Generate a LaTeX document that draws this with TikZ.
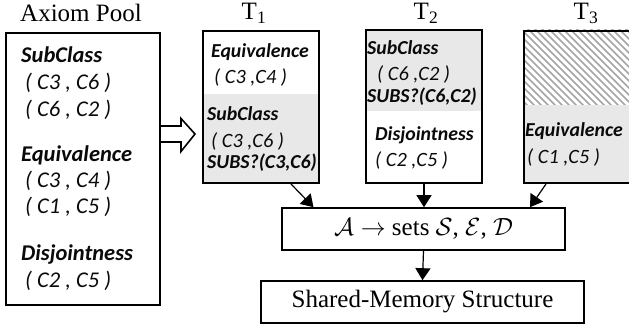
\documentclass[tikz,border=0pt]{standalone}
\usepackage{fontspec}
\setmainfont{Liberation Serif}
\newfontfamily\calfont{Carlito}
\usetikzlibrary{arrows.meta,calc}
\definecolor{boxgray}{RGB}{232,232,232}
\definecolor{hatchgray}{RGB}{165,165,165}
\definecolor{ink}{RGB}{10,10,10}
\begin{document}
\begin{tikzpicture}[x=1pt,y=-1pt,
  hd/.style={font=\calfont\bfseries\itshape\fontsize{22.5}{24}\selectfont, anchor=base west, inner sep=0pt, text=ink},
  pr/.style={font=\calfont\itshape\fontsize{22.5}{24}\selectfont, anchor=base west, inner sep=0pt, text=ink},
  thd/.style={font=\calfont\bfseries\itshape\fontsize{19.8}{22}\selectfont, anchor=base west, inner sep=0pt, text=ink},
  tpr/.style={font=\calfont\itshape\fontsize{20.3}{22}\selectfont, anchor=base west, inner sep=0pt, text=ink},
  ttl/.style={font=\fontsize{25}{27}\selectfont, anchor=base, inner sep=0pt},
  boxf/.style={draw, line width=2pt, anchor=north west, inner sep=0pt},
  flow/.style={draw, line width=1.6pt, font=\fontsize{25}{27}\selectfont, inner sep=0pt},
  arr/.style={line width=1.2pt, -{Triangle[width=15pt,length=12pt]}}]
\clip (0,0) rectangle (629,326);
% backgrounds
\fill[boxgray] (202,94) rectangle (318,182);
\fill[boxgray] (365,29) rectangle (481,111);
\fill[boxgray] (523,105) rectangle (660,182);
\begin{scope}
  \clip (523,30) rectangle (660,105);
  \foreach \i in {0,...,32}{
    \draw[hatchgray, line width=1.7pt] ({523-80+\i*7},28) -- ++(80,80);
  }
\end{scope}
% titles
\node[ttl] (tpool) at (81,22) {Axiom Pool};
\node[ttl] (tt1) at (254,20) {T\textsubscript{1}};
\node[ttl] (tt2) at (426,20) {T\textsubscript{2}};
\node[ttl] (tt3) at (586,20) {T\textsubscript{3}};
% boxes
\node[boxf, minimum width=154, minimum height=272] (pool) at (5,32) {};
\node[boxf, minimum width=116, minimum height=152] (t1) at (202,30) {};
\node[boxf, minimum width=116, minimum height=153] (t2) at (365,29) {};
\node[boxf, minimum width=140, minimum height=152] (t3) at (523,30) {};
% pool text
\node[hd] (p1) at (21,63) {SubClass};
\node[pr] (p2) at (25,90) {( C3 , C6 )};
\node[pr] (p3) at (25,117) {( C6 , C2 )};
\node[hd] (p4) at (21,161) {Equivalence};
\node[pr] (p5) at (25,187) {( C3 , C4 )};
\node[pr] (p6) at (25,213) {( C1 , C5 )};
\node[hd] (p7) at (21,260) {Disjointness};
\node[pr] (p8) at (25,287) {( C2 , C5 )};
% T1 text
\node[thd] (a1) at (211,57.5) {Equivalence};
\node[tpr] (a2) at (214,84) {( C3 ,C4 )};
\node[thd] (a3) at (207,120.5) {SubClass};
\node[tpr] (a4) at (211,148) {( C3 ,C6 )};
\node[thd] (a5) at (207,168) {SUBS?(C3,C6)};
% T2 text
\node[thd] (b1) at (367,55) {SubClass};
\node[tpr] (b2) at (377,81) {( C6 ,C2 )};
\node[thd] (b3) at (367,103) {SUBS?(C6,C2)};
\node[thd] (b4) at (375,140) {Disjointness};
\node[tpr] (b5) at (375,166) {( C2 ,C5 )};
% T3 text
\node[thd] (c1) at (525,136.5) {Equivalence};
\node[tpr] (c2) at (527,164) {( C1 ,C5 )};
% hollow arrow
\draw[line width=1.6pt, fill=white] (pool.east |- 0,126) -- (181,126) -- (181,118.5) -- (195,134) -- (181,151.5) -- (181,142) -- (pool.east |- 0,142);
% flow boxes
\node[flow, minimum width=283, minimum height=42] (mid) at (423.5,229) {$\mathcal{A} \rightarrow$ sets $\mathcal{S}$, $\mathcal{E}$, $\mathcal{D}$};
\node[flow, minimum width=323, minimum height=42] (shared) at (422.5,302) {Shared-Memory Structure};
% arrows
\draw[arr] ($(t1.south)+(30,0)$) -- ($(mid.north)+(-110,0)$);
\draw[arr] (t2.south |- t1.south) -- (t2.south |- mid.north);
\draw[arr] ($(t3.south)+(-48,0)$) -- ($(mid.north)+(106.5,0)$);
\draw[arr] (mid.south) -- (shared.north);
\end{tikzpicture}
\end{document}
